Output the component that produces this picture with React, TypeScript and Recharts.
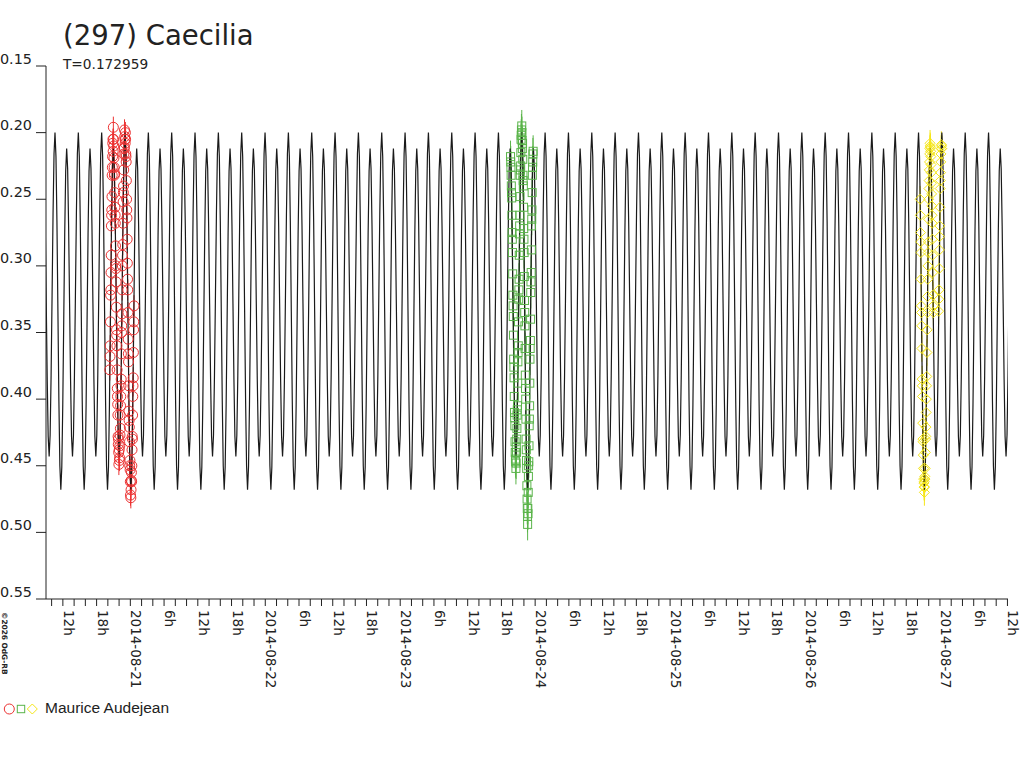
import React from 'react';
import { ComposedChart, Line, Scatter, XAxis, YAxis, ErrorBar } from 'recharts';

const TITLE = '(297) Caecilia';
const PERIOD_LABEL = 'T=0.172959';
const OBSERVER = 'Maurice Audejean';
const COPYRIGHT = '©2026 OdG-RB';

// time axis in hours from 2014-08-20 00:00 UT
const X_DOMAIN: [number, number] = [9, 180.1];
const Y_DOMAIN: [number, number] = [0.15, 0.55];
const Y_TICKS = [0.15, 0.2, 0.25, 0.3, 0.35, 0.4, 0.45, 0.5, 0.55];
const DAY_LABELS = ['2014-08-21', '2014-08-22', '2014-08-23', '2014-08-24', '2014-08-25', '2014-08-26', '2014-08-27'];

// model lightcurve: one rotation, starting at the main maximum
const PERIOD_H = 0.172959 * 24;
const MODEL_EPOCH_H = 10.6;
const MODEL_SHAPE = [
  0.2, 0.218, 0.267, 0.334, 0.401, 0.45,
  0.468, 0.451, 0.404, 0.34, 0.276, 0.229,
  0.212, 0.227, 0.27, 0.328, 0.385, 0.428,
  0.443, 0.427, 0.382, 0.322, 0.261, 0.216,
];

// session 1 (red circles) [hour, mag]
const SESSION_1: [number, number][] = [
  [20.35, 0.378], [20.42, 0.36], [20.49, 0.322], [20.56, 0.305], [20.63, 0.27], [20.7, 0.258],
  [20.77, 0.232], [20.84, 0.218], [20.91, 0.205], [20.98, 0.196], [21.05, 0.21], [21.12, 0.226],
  [21.19, 0.231], [21.26, 0.256], [21.33, 0.268], [21.4, 0.3], [21.47, 0.312], [21.54, 0.348],
  [21.61, 0.36], [21.68, 0.392], [21.75, 0.404], [21.82, 0.428], [21.89, 0.43], [21.96, 0.449],
  [22.02, 0.438], [22.09, 0.444], [22.16, 0.427], [22.23, 0.422], [22.3, 0.398], [22.37, 0.385],
  [22.44, 0.35], [22.51, 0.336], [22.58, 0.3], [22.65, 0.284], [22.72, 0.252], [22.79, 0.24],
  [22.86, 0.216], [22.93, 0.211], [23.0, 0.203], [23.05, 0.205], [23.12, 0.2], [23.19, 0.216],
  [23.26, 0.222], [23.33, 0.25], [23.4, 0.264], [23.47, 0.298], [23.54, 0.318], [23.61, 0.355],
  [23.68, 0.372], [23.75, 0.409], [23.82, 0.421], [23.89, 0.45], [23.96, 0.453], [24.03, 0.472],
  [24.09, 0.474], [24.16, 0.461], [24.23, 0.462], [24.3, 0.438], [24.37, 0.43], [24.44, 0.398],
  [24.51, 0.384], [24.58, 0.348], [24.65, 0.33],
  [20.385, 0.368], [20.455, 0.342], [20.525, 0.318], [20.595, 0.292], [20.665, 0.262], [20.735, 0.248],
  [20.805, 0.226], [20.875, 0.208], [20.945, 0.214], [21.015, 0.205], [21.085, 0.219], [21.155, 0.232],
  [21.225, 0.245], [21.295, 0.262], [21.365, 0.285], [21.435, 0.302], [21.505, 0.331], [21.575, 0.352],
  [21.645, 0.378], [21.715, 0.398], [21.785, 0.412], [21.855, 0.434], [21.925, 0.44], [22.055, 0.446],
  [22.125, 0.435], [22.195, 0.412], [22.265, 0.405], [22.335, 0.39], [22.405, 0.366], [22.475, 0.345],
  [22.545, 0.318], [22.615, 0.292], [22.685, 0.268], [22.755, 0.245], [22.825, 0.228], [22.895, 0.212],
  [22.965, 0.198], [23.085, 0.208], [23.155, 0.205], [23.225, 0.218], [23.295, 0.236], [23.365, 0.258],
  [23.435, 0.28], [23.505, 0.31], [23.575, 0.335], [23.645, 0.366], [23.715, 0.39], [23.785, 0.416],
  [23.855, 0.432], [23.925, 0.446], [23.995, 0.462], [24.125, 0.468], [24.195, 0.455], [24.265, 0.45],
  [24.335, 0.428], [24.405, 0.412], [24.475, 0.39], [24.545, 0.365], [24.615, 0.342],
];

// session 2 (green squares)
const SESSION_2: [number, number][] = [
  [91.62, 0.218], [91.69, 0.226], [91.76, 0.24], [91.83, 0.249], [91.9, 0.275], [91.97, 0.29],
  [92.04, 0.322], [92.11, 0.338], [92.18, 0.37], [92.25, 0.384], [92.32, 0.41], [92.39, 0.42],
  [92.46, 0.44], [92.53, 0.447], [92.58, 0.452], [92.65, 0.436], [92.72, 0.43], [92.79, 0.412],
  [92.86, 0.405], [92.93, 0.372], [93.0, 0.36], [93.07, 0.325], [93.14, 0.31], [93.21, 0.276],
  [93.28, 0.262], [93.35, 0.232], [93.42, 0.225], [93.49, 0.205], [93.56, 0.198], [93.62, 0.195],
  [93.69, 0.206], [93.76, 0.208], [93.83, 0.232], [93.9, 0.24], [93.97, 0.272], [94.04, 0.29],
  [94.11, 0.326], [94.18, 0.345], [94.25, 0.382], [94.32, 0.4], [94.39, 0.43], [94.46, 0.446],
  [94.53, 0.465], [94.6, 0.482], [94.66, 0.494], [94.73, 0.486], [94.8, 0.458], [94.87, 0.447],
  [94.94, 0.42], [95.01, 0.405], [95.08, 0.37], [95.15, 0.356], [95.22, 0.32], [95.29, 0.305],
  [95.36, 0.27], [95.43, 0.258], [95.5, 0.232], [95.57, 0.222], [95.64, 0.214],
  [91.655, 0.222], [91.725, 0.232], [91.795, 0.245], [91.865, 0.262], [91.935, 0.28], [92.005, 0.306],
  [92.075, 0.33], [92.145, 0.352], [92.215, 0.376], [92.285, 0.398], [92.355, 0.414], [92.425, 0.432],
  [92.495, 0.445], [92.615, 0.448], [92.685, 0.44], [92.755, 0.422], [92.825, 0.408], [92.895, 0.388],
  [92.965, 0.365], [93.035, 0.342], [93.105, 0.318], [93.175, 0.292], [93.245, 0.27], [93.315, 0.248],
  [93.385, 0.228], [93.455, 0.215], [93.525, 0.202], [93.655, 0.2], [93.725, 0.212], [93.795, 0.22],
  [93.865, 0.236], [93.935, 0.256], [94.005, 0.28], [94.075, 0.308], [94.145, 0.335], [94.215, 0.362],
  [94.285, 0.392], [94.355, 0.415], [94.425, 0.438], [94.495, 0.452], [94.565, 0.475], [94.635, 0.488],
  [94.695, 0.482], [94.765, 0.47], [94.835, 0.45], [94.905, 0.435], [94.975, 0.415], [95.045, 0.388],
  [95.115, 0.362], [95.185, 0.34], [95.255, 0.312], [95.325, 0.288], [95.395, 0.265], [95.465, 0.245],
  [95.535, 0.226], [95.605, 0.216],
];

// session 3 (yellow diamonds)
const SESSION_3: [number, number][] = [
  [164.47, 0.25], [164.54, 0.275], [164.61, 0.29], [164.68, 0.33], [164.75, 0.345], [164.82, 0.385],
  [164.89, 0.398], [164.96, 0.43], [165.03, 0.442], [165.1, 0.46], [165.17, 0.466], [165.23, 0.47],
  [165.3, 0.458], [165.37, 0.452], [165.44, 0.43], [165.51, 0.421], [165.58, 0.4], [165.65, 0.383],
  [165.72, 0.348], [165.79, 0.323], [165.86, 0.3], [165.93, 0.282], [166.0, 0.25], [166.07, 0.236],
  [166.14, 0.222], [166.21, 0.212], [166.27, 0.21], [166.34, 0.214], [166.41, 0.224], [166.48, 0.238],
  [166.55, 0.255], [166.62, 0.268], [166.69, 0.292], [166.76, 0.322], [166.83, 0.335],
  [167.76, 0.334], [167.83, 0.318], [167.9, 0.288], [167.97, 0.27], [168.04, 0.242], [168.11, 0.23],
  [168.18, 0.216], [168.25, 0.209], [168.32, 0.212],
  [164.505, 0.262], [164.575, 0.282], [164.645, 0.31], [164.715, 0.335], [164.785, 0.362], [164.855, 0.39],
  [164.925, 0.418], [164.995, 0.432], [165.065, 0.452], [165.135, 0.463], [165.2, 0.462], [165.265, 0.466],
  [165.335, 0.46], [165.405, 0.44], [165.475, 0.428], [165.545, 0.41], [165.615, 0.39], [165.685, 0.365],
  [165.755, 0.335], [165.825, 0.31], [165.895, 0.29], [165.965, 0.265], [166.035, 0.242], [166.105, 0.228],
  [166.175, 0.216], [166.24, 0.208], [166.305, 0.211], [166.375, 0.218], [166.445, 0.23], [166.515, 0.246],
  [166.585, 0.262], [166.655, 0.28], [166.725, 0.305], [166.795, 0.33], [167.795, 0.325], [167.865, 0.302],
  [167.935, 0.278], [168.005, 0.256], [168.075, 0.236], [168.145, 0.222], [168.215, 0.212], [168.285, 0.21],
];

const ERR_1 = 0.008;
const ERR_2 = 0.012;
const ERR_3 = 0.01;

const RED = '#ec3232';
const GREEN = '#5ab44a';
const YELLOW = '#f5e61a';
const INK = '#222';
const FONT = '"DejaVu Sans", sans-serif';

const buildModel = () => {
  const n = MODEL_SHAPE.length;
  const step = PERIOD_H / n;
  const k0 = Math.floor((X_DOMAIN[0] - MODEL_EPOCH_H) / step) - 1;
  const k1 = Math.ceil((X_DOMAIN[1] - MODEL_EPOCH_H) / step) + 1;
  const out: { t: number; mag: number }[] = [];
  for (let k = k0; k <= k1; k++) {
    out.push({ t: MODEL_EPOCH_H + k * step, mag: MODEL_SHAPE[((k % n) + n) % n] });
  }
  return out;
};

const toPoints = (rows: [number, number][], err: number) =>
  rows.map(([t, mag]) => ({ t, mag, err }));

const xTicks: number[] = [];
for (let h = 10; h <= 180; h += 2) xTicks.push(h);

const xLabel = (h: number) => {
  if (h % 6 !== 0) return '';
  if (h % 24 === 0) return DAY_LABELS[h / 24 - 1] ?? '';
  return `${h % 24}h`;
};

const XTick = ({ x, y, payload }: any) => {
  const label = xLabel(payload.value);
  if (!label) return <g />;
  const tx = x + 1;
  const ty = y + 2;
  return (
    <text x={tx} y={ty} transform={`rotate(90 ${tx} ${ty})`} fontFamily={FONT} fontSize={13.5} fill={INK}>
      {label}
    </text>
  );
};

const YTick = ({ x, y, payload }: any) => (
  <text x={x - 2} y={y - 2.4} textAnchor="end" fontFamily={FONT} fontSize={14.4} fill={INK}>
    {payload.value.toFixed(2)}
  </text>
);

const Circle = ({ cx, cy }: any) => <circle cx={cx} cy={cy} r={5} fill="none" stroke={RED} strokeWidth={1} />;
const Square = ({ cx, cy }: any) => (
  <rect x={cx - 4} y={cy - 4} width={8} height={8} fill="none" stroke={GREEN} strokeWidth={1} />
);
const Diamond = ({ cx, cy }: any) => (
  <polygon points={`${cx},${cy - 5} ${cx + 5},${cy} ${cx},${cy + 5} ${cx - 5},${cy}`} fill="none" stroke={YELLOW} strokeWidth={1} />
);

export default function App() {
  const model = buildModel();
  return (
    <div style={{ position: 'absolute', left: 0, top: 0, width: 1024, height: 768, background: '#fff' }}>
      <ComposedChart width={1024} height={768} margin={{ top: 66, right: 16, bottom: 0, left: 0 }}>
        <XAxis
          type="number"
          dataKey="t"
          domain={X_DOMAIN}
          allowDataOverflow
          ticks={xTicks}
          interval={0}
          tick={<XTick />}
          tickSize={7}
          height={169}
          stroke={INK}
        />
        <YAxis
          type="number"
          dataKey="mag"
          domain={Y_DOMAIN}
          allowDataOverflow
          reversed
          ticks={Y_TICKS}
          interval={0}
          tick={<YTick />}
          tickSize={10}
          width={46}
          stroke={INK}
        />
        <Scatter data={toPoints(SESSION_1, ERR_1)} dataKey="mag" shape={<Circle />} isAnimationActive={false}>
          <ErrorBar dataKey="err" direction="y" width={0} stroke={RED} strokeWidth={1} />
        </Scatter>
        <Scatter data={toPoints(SESSION_2, ERR_2)} dataKey="mag" shape={<Square />} isAnimationActive={false}>
          <ErrorBar dataKey="err" direction="y" width={0} stroke={GREEN} strokeWidth={1} />
        </Scatter>
        <Scatter data={toPoints(SESSION_3, ERR_3)} dataKey="mag" shape={<Diamond />} isAnimationActive={false}>
          <ErrorBar dataKey="err" direction="y" width={0} stroke={YELLOW} strokeWidth={1} />
        </Scatter>
        <Line
          data={model}
          dataKey="mag"
          type="linear"
          stroke="#1a1a1a"
          strokeWidth={1.2}
          dot={false}
          activeDot={false}
          isAnimationActive={false}
        />
      </ComposedChart>
      <svg width={1024} height={768} style={{ position: 'absolute', left: 0, top: 0, pointerEvents: 'none' }}>
        <text x={63} y={45} fontFamily={FONT} fontSize={27.5} fill={INK}>{TITLE}</text>
        <text x={63} y={68.5} fontFamily={FONT} fontSize={13.7} fill={INK}>{PERIOD_LABEL}</text>
        <text x={1.5} y={612} transform="rotate(90 1.5 612)" fontFamily={FONT} fontSize={7.4} fontWeight="bold" fill={INK}>
          {COPYRIGHT}
        </text>
        <circle cx={9.3} cy={709} r={5} fill="none" stroke={RED} />
        <rect x={17.3} y={705.3} width={7.4} height={7.4} fill="none" stroke={GREEN} />
        <polygon points="32.3,704 37.3,709 32.3,714 27.3,709" fill="none" stroke={YELLOW} />
        <text x={45} y={713.3} fontFamily='"Liberation Sans", Arial, sans-serif' fontSize={15.5} fill={INK}>{OBSERVER}</text>
      </svg>
    </div>
  );
}
